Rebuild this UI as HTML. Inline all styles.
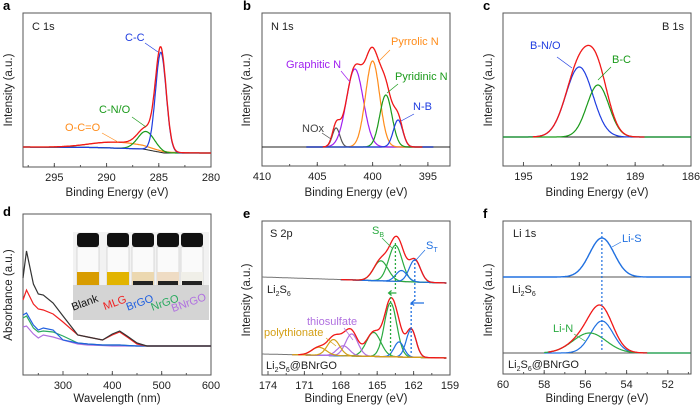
<!DOCTYPE html>
<html><head><meta charset="utf-8">
<style>
body{margin:0;background:#fff;}
svg{display:block;font-family:"Liberation Sans",Arial,sans-serif;}
.tick{font-size:11px;fill:#222;text-anchor:middle;}
.ttl{font-size:11.5px;fill:#222;text-anchor:middle;}
.pl{font-size:13px;font-weight:bold;fill:#000;}
.ann{font-size:11px;}
</style></head>
<body>
<svg id="fig" width="700" height="406" viewBox="0 0 700 406"></svg>
<script>
// ---------- Data ----------
// Panel a: C 1s
const aCenters=[284.8,286.2,289.0];
const aHeights=[100,18,6];
const aWidths=[1.2,1.9,6.0];
const aBaseE=[298,291,286.5,284.5,280];
const aBaseV=[20,19.5,18,14,14];
// Panel b: N 1s
const bCenters=[403.3,401.6,400.0,398.8,397.7];
const bHeights=[19,78,86,52,27];
const bWidths=[0.8,1.8,1.5,1.3,1.0];
const bBaseE=[410,393];
const bBaseV=[19,19];
// Panel c: B 1s
const cCenters=[192.0,191.0];
const cHeights=[70,52];
const cWidths=[1.7,1.4];
const cBaseE=[196,186];
const cBaseV=[29,29];
// Panel d: UV-vis
const dWave=[219,226,240,250,260,280,300,330,350,380,400,415,430,450,470,500,600];
const dBlank=[0.68,0.95,0.62,0.52,0.51,0.43,0.30,0.11,0.09,0.06,0.12,0.15,0.10,0.03,0.0,0.0,0.0];
const dMLG=[0.46,0.56,0.42,0.37,0.36,0.32,0.24,0.11,0.09,0.06,0.11,0.14,0.09,0.02,0.0,0.0,0.0];
const dBrGO=[0.31,0.33,0.21,0.16,0.18,0.16,0.06,0.03,0.02,0.01,0.01,0.01,0.005,0.0,0.0,0.0,0.0];
const dNrGO=[0.28,0.30,0.18,0.14,0.15,0.14,0.10,0.03,0.02,0.01,0.01,0.01,0.005,0.0,0.0,0.0,0.0];
const dBNrGO=[0.19,0.20,0.12,0.08,0.11,0.09,0.06,0.02,0.01,0.005,0.0,0.0,0.0,0.0,0.0,0.0,0.0];
// Panel e: S 2p
const eTopCenters=[163.5,164.7,161.9,163.0];
const eTopHeights=[36,20,22,11];
const eTopWidths=[1.3,1.4,1.1,1.1];
const eBotCenters=[163.9,165.3,162.2,163.2,167.1,167.8,168.6,169.8];
const eBotHeights=[54,24,28,15,22,10,16,8];
const eBotWidths=[1.2,1.4,0.95,0.95,1.2,1.2,1.2,1.4];
const eTopBase=[98,92];
const eBotBase=[21,17];
// Panel f: Li 1s
const fTopCenters=[55.2];
const fTopHeights=[39];
const fTopWidths=[1.4];
const fBotCenters=[55.2,55.8];
const fBotHeights=[32,20];
const fBotWidths=[1.3,1.9];
const fTopBase=[97,97];
const fBotBase=[21,21];
// Tick labels
const aTicks=[295,290,285,280];
const bTicks=[410,405,400,395];
const cTicks=[195,192,189,186];
const dTicks=[300,400,500,600];
const eTicks=[174,171,168,165,162,159];
const fTicks=[60,58,56,54,52];

// ---------- Helpers ----------
const NS="http://www.w3.org/2000/svg";
const svg=document.getElementById('fig');
function mk(tag,attrs,parent){const e=document.createElementNS(NS,tag);for(const k in attrs)e.setAttribute(k,attrs[k]);(parent||svg).appendChild(e);return e;}
function txt(x,y,s,cls,fill,name,extra){const t=mk('text',Object.assign({x:x,y:y,class:cls,fill:fill||'#222'},extra||{}));t.textContent=s;


return t;}
function gauss(E,c,h,w){return h*Math.exp(-4*Math.LN2*(E-c)*(E-c)/(w*w));}
function interp(xs,ys,x){if(xs[0]>xs[xs.length-1]){xs=xs.slice().reverse();ys=ys.slice().reverse();}
if(x<=xs[0])return ys[0];for(let i=1;i<xs.length;i++){if(x<=xs[i]){const t=(x-xs[i-1])/(xs[i]-xs[i-1]);return ys[i-1]+t*(ys[i]-ys[i-1]);}}return ys[ys.length-1];}
function scaleX(d0,d1,p0,p1){return v=>p0+(v-d0)/(d1-d0)*(p1-p0);}
function pathFrom(pts){return pts.map((p,i)=>(i?'L':'M')+p[0].toFixed(1)+','+p[1].toFixed(1)).join('');}
function frame(box,name){const r=mk('rect',{x:box.x0,y:box.y0,width:box.x1-box.x0,height:box.y1-box.y0,fill:'none',stroke:'#555','stroke-width':1});

}
function ticks(box,X,vals,name,minorStep){
 vals.forEach(v=>{const x=X(v);mk('line',{x1:x,x2:x,y1:box.y1,y2:box.y1-4,stroke:'#555'});txt(x,box.y1+14,String(v),'tick','#222',name+'-'+v);});
 if(minorStep){const lo=Math.min(...vals)-minorStep*2,hi=Math.max(...vals)+minorStep*2;for(let v=lo;v<=hi;v+=minorStep){const x=X(v);if(x>box.x0+1&&x<box.x1-1)mk('line',{x1:x,x2:x,y1:box.y1,y2:box.y1-2,stroke:'#555'});}}
}
function yTitle(x,cy,s,name){txt(x,cy,s,'ttl','#222',name,{transform:'rotate(-90 '+x+' '+cy+')'});}
function curve(box,X,E0,E1,fn,color,name,width){
 const pts=[];const n=300;for(let i=0;i<=n;i++){const E=E0+(E1-E0)*i/n;pts.push([X(E),box.y1-fn(E)]);}
 const p=mk('path',{d:pathFrom(pts),fill:'none',stroke:color,'stroke-width':width||1.2});
 
 
 return p;}
function leader(x1,y1,x2,y2,c){mk('line',{x1:x1,y1:y1,x2:x2,y2:y2,stroke:c,'stroke-width':0.7});}
function sub(parent,s){const a=mk('tspan',{'font-size':'7px',dy:'3'},parent);a.textContent=s;}
function sup0(parent,s){const a=mk('tspan',{dy:'-3'},parent);a.textContent=s;}

// ---------- Panel a ----------
(function(){
 const box={x0:23,x1:211,y0:13,y1:167};
 const X=scaleX(298,280,box.x0,box.x1);
 frame(box,'panel-a-frame');
 const base=E=>interp(aBaseE,aBaseV,E);
 curve(box,X,298,280,base,'#222','a-background',1);
 const cols=['#1f3de0','#1a9a1a','#ff8c1a'];const names=['a-cc-peak','a-cno-peak','a-oco-peak'];
 [2,1,0].forEach(i=>curve(box,X,298,280,E=>base(E)+gauss(E,aCenters[i],aHeights[i],aWidths[i]),cols[i],names[i]));
 curve(box,X,298,280,E=>{let s=base(E);for(let i=0;i<aCenters.length;i++)s+=gauss(E,aCenters[i],aHeights[i],aWidths[i]);return s;},'#f01818','a-envelope',1.3);
 ticks(box,X,aTicks,'a-tick',2.5);
 txt(117,196,'Binding Energy (eV)','ttl','#222','a-x-title');
 yTitle(12,90,'Intensity (a.u.)','a-y-title');
 txt(3,10,'a','pl','#000','panel-a-letter');
 txt(32,30,'C 1s','ann','#222','a-title');
 txt(125,41,'C-C','ann','#1f3de0','a-label-cc');leader(145,43,158,52,'#1f3de0');
 txt(99,113,'C-N/O','ann','#1a9a1a','a-label-cno');leader(132,117,146,127,'#1a9a1a');
 txt(65,131,'O-C=O','ann','#ff8c1a','a-label-oco');leader(102,133,118,142,'#ff8c1a');
})();

// ---------- Panel b ----------
(function(){
 const box={x0:262,x1:450,y0:13,y1:166};
 const X=scaleX(410,393,box.x0,box.x1);
 frame(box,'panel-b-frame');
 const base=E=>interp(bBaseE,bBaseV,E);
 curve(box,X,410,393,base,'#222','b-background',1);
 const cols=['#555','#a020f0','#ff8c1a','#1a9a1a','#1f3de0'];
 const names=['b-nox-peak','b-graphitic-peak','b-pyrrolic-peak','b-pyridinic-peak','b-nb-peak'];
 cols.forEach((c,i)=>curve(box,X,406,394.5,E=>base(E)+gauss(E,bCenters[i],bHeights[i],bWidths[i]),c,names[i]));
 curve(box,X,404.5,395.5,E=>{let s=base(E);for(let i=0;i<bCenters.length;i++)s+=gauss(E,bCenters[i],bHeights[i],bWidths[i]);return s;},'#f01818','b-envelope',1.3);
 ticks(box,X,bTicks,'b-tick',2.5);
 txt(356,196,'Binding Energy (eV)','ttl','#222','b-x-title');
 yTitle(250,90,'Intensity (a.u.)','b-y-title');
 txt(243,10,'b','pl','#000','panel-b-letter');
 txt(271,30,'N 1s','ann','#222','b-title');
 txt(286,68,'Graphitic N','ann','#a020f0','b-label-graphitic');leader(341,71,350,82,'#a020f0');
 txt(391,45,'Pyrrolic N','ann','#ff8c1a','b-label-pyrrolic');leader(390,50,378,62,'#ff8c1a');
 txt(395,80,'Pyridinic N','ann','#1a9a1a','b-label-pyridinic');leader(398,84,387,93,'#1a9a1a');
 txt(413,110,'N-B','ann','#1f3de0','b-label-nb');leader(414,114,401,121,'#1f3de0');
 txt(302,132,'NOx','ann','#444','b-label-nox');leader(322,133,331,139,'#444');
})();

// ---------- Panel c ----------
(function(){
 const box={x0:503,x1:691,y0:13,y1:166};
 const X=scaleX(196.1,186,box.x0,box.x1);
 frame(box,'panel-c-frame');
 const base=E=>interp(cBaseE,cBaseV,E);
 curve(box,X,196.1,186,base,'#222','c-background',1);
 curve(box,X,196.1,186,E=>base(E)+gauss(E,cCenters[0],cHeights[0],cWidths[0]),'#1f3de0','c-bno-peak');
 curve(box,X,196.1,186,E=>base(E)+gauss(E,cCenters[1],cHeights[1],cWidths[1]),'#1a9a1a','c-bc-peak');
 curve(box,X,194.5,188.5,E=>base(E)+gauss(E,cCenters[0],cHeights[0],cWidths[0])+gauss(E,cCenters[1],cHeights[1],cWidths[1]),'#f01818','c-envelope',1.3);
 ticks(box,X,cTicks,'c-tick',1.5);
 txt(597,196,'Binding Energy (eV)','ttl','#222','c-x-title');
 yTitle(492,90,'Intensity (a.u.)','c-y-title');
 txt(483,10,'c','pl','#000','panel-c-letter');
 txt(662,30,'B 1s','ann','#222','c-title');
 txt(530,49,'B-N/O','ann','#1f3de0','c-label-bno');leader(557,57,572,68,'#1f3de0');
 txt(612,63,'B-C','ann','#1a9a1a','c-label-bc');leader(611,67,598,80,'#1a9a1a');
})();

// ---------- Panel d ----------
(function(){
 const box={x0:23,x1:211,y0:214,y1:375};
 const X=scaleX(300,600,63,211);
 const Y=a=>346-a*100;
 frame(box,'panel-d-frame');
 const series=[[dBNrGO,'#b070e0','d-line-bnrgo'],[dNrGO,'#2aaa60','d-line-nrgo'],[dBrGO,'#2060e0','d-line-brgo'],[dMLG,'#f02020','d-line-mlg'],[dBlank,'#333','d-line-blank']];
 series.forEach(s=>{const pts=dWave.map((w,i)=>[X(w),Y(s[0][i])]);
  const p=mk('path',{d:pathFrom(pts),fill:'none',stroke:s[1],'stroke-width':1.2});
  
  });
 ticks(box,X,dTicks,'d-tick',50);
 txt(117,402,'Wavelength (nm)','ttl','#222','d-x-title');
 yTitle(12,295,'Absorbance (a.u.)','d-y-title');
 txt(3,216,'d','pl','#000','panel-d-letter');
 const g=mk('g',{});
 
 
 mk('rect',{x:73,y:232,width:136,height:88,fill:'#f2f2f2'},g);
 mk('rect',{x:73,y:285,width:136,height:35,fill:'#d4d4d4'},g);
 const vx=[88,118,143,168,192];
 const liq=['#d89c00','#e2b400','#ecd8b0','#efdcc4','#f0efe8'];
 const names=['Blank','MLG','BrGO','NrGO','BNrGO'];
 const lc=['#111','#f02020','#2060e0','#2aaa60','#b070e0'];
 vx.forEach((x,i)=>{
  mk('rect',{x:x-11,y:247,width:22,height:38,fill:'#fafafa',stroke:'#bbb','stroke-width':0.5},g);
  mk('rect',{x:x-11,y:272,width:22,height:13,fill:liq[i]},g);
  if(i>=2)mk('rect',{x:x-10,y:281,width:20,height:4,fill:'#222'},g);
  mk('rect',{x:x-11,y:233,width:22,height:14,rx:3,fill:'#111'},g);
  txt(x-2,306,names[i],'ann',lc[i],'vial-label-'+names[i].toLowerCase(),{'text-anchor':'middle','font-size':'10',transform:'rotate(-20 '+(x-2)+' 306)'});
 });
})();

// ---------- Panel e ----------
(function(){
 const box={x0:262,x1:450,y0:221,y1:375};
 const E0=174.5,E1=159.3;
 const X=scaleX(174,159,268,450);
 frame(box,'panel-e-frame');
 const tb=E=>interp([E0,E1],eTopBase,E), bb=E=>interp([E0,E1],eBotBase,E);
 curve(box,X,E0,E1,tb,'#777','e-top-background',1);
 curve(box,X,E0,E1,bb,'#777','e-bottom-background',1);
 curve(box,X,171,E1,bb,'#d4a017','e-bottom-baseline-fit',1.2);
 const tc=['#2aaa40','#2aaa40','#2070e0','#2070e0'];
 eTopCenters.forEach((c,i)=>curve(box,X,168,E1,E=>tb(E)+gauss(E,c,eTopHeights[i],eTopWidths[i]),tc[i],'e-top-peak-'+i));
 curve(box,X,168,E1,E=>{let s=tb(E);eTopCenters.forEach((c,i)=>s+=gauss(E,c,eTopHeights[i],eTopWidths[i]));return s;},'#f01818','e-top-envelope',1.3);
 const bc=['#2aaa40','#2aaa40','#2070e0','#2070e0','#b070e0','#b070e0','#d4a017','#d4a017'];
 eBotCenters.forEach((c,i)=>curve(box,X,172,E1,E=>bb(E)+gauss(E,c,eBotHeights[i],eBotWidths[i]),bc[i],'e-bottom-peak-'+i));
 curve(box,X,171.5,E1,E=>{let s=bb(E);eBotCenters.forEach((c,i)=>s+=gauss(E,c,eBotHeights[i],eBotWidths[i]));return s;},'#f01818','e-bottom-envelope',1.3);
 const gx1=X(eTopCenters[0]),gx2=X(eBotCenters[0]),bx1=X(eTopCenters[2]),bx2=X(eBotCenters[2]);
 mk('line',{x1:gx1,x2:gx1,y1:243,y2:290,stroke:'#2aaa40','stroke-dasharray':'2,2','stroke-width':1.3});
 mk('line',{x1:gx2,x2:gx2,y1:293,y2:355,stroke:'#2aaa40','stroke-dasharray':'2,2','stroke-width':1.3});
 mk('line',{x1:bx1,x2:bx1,y1:259,y2:303,stroke:'#2070e0','stroke-dasharray':'2,2','stroke-width':1.3});
 mk('line',{x1:bx2,x2:bx2,y1:303,y2:355,stroke:'#2070e0','stroke-dasharray':'2,2','stroke-width':1.3});
 mk('path',{d:'M'+(gx1+1)+',293 L'+(gx2-2)+',293 M'+(gx2+1)+',290.5 L'+(gx2-2)+',293 L'+(gx2+1)+',295.5',stroke:'#2aaa40',fill:'none','stroke-width':1.2});
 mk('path',{d:'M424,303 L'+bx2+',303 M'+(bx2+3)+',300.5 L'+bx2+',303 L'+(bx2+3)+',305.5',stroke:'#2070e0',fill:'none','stroke-width':1.2});
 ticks(box,X,eTicks,'e-tick',1.5);
 txt(356,402,'Binding Energy (eV)','ttl','#222','e-x-title');
 yTitle(250,300,'Intensity (a.u.)','e-y-title');
 txt(243,218,'e','pl','#000','panel-e-letter');
 txt(270,237,'S 2p','ann','#222','e-title');
 const l1=txt(267,293,'Li','ann','#222','e-label-li2s6');sub(l1,'2');sup0(l1,'S');sub(l1,'6');
 const l2=txt(266,369,'Li','ann','#222','e-label-li2s6-bnrgo');sub(l2,'2');sup0(l2,'S');sub(l2,'6');sup0(l2,'@BNrGO');
 const sb=txt(372,234,'S','ann','#2aaa40','e-label-sb');sub(sb,'B');leader(382,238,392,248,'#2aaa40');
 const st=txt(426,249,'S','ann','#2070e0','e-label-st');sub(st,'T');leader(425,250,416,260,'#2070e0');
 txt(307,325,'thiosulfate','ann','#b070e0','e-label-thiosulfate');leader(344,328,353,340,'#b070e0');
 txt(264,336,'polythionate','ann','#d4a017','e-label-polythionate');leader(326,338,336,346,'#d4a017');
})();

// ---------- Panel f ----------
(function(){
 const box={x0:503,x1:691,y0:221,y1:374};
 const X=scaleX(60,56,503,585.4);
 const E0=60,E1=50.9;
 frame(box,'panel-f-frame');
 const tb=E=>interp([E0,E1],fTopBase,E), bb=E=>interp([E0,E1],fBotBase,E);
 curve(box,X,E0,E1,tb,'#555','f-top-background',1);
 curve(box,X,E0,E1,bb,'#555','f-bottom-background',1);
 curve(box,X,E0,E1,E=>tb(E)+gauss(E,fTopCenters[0],fTopHeights[0],fTopWidths[0]),'#2070e0','f-top-lis-peak',1.4);
 curve(box,X,58,E1,E=>bb(E)+gauss(E,fBotCenters[0],fBotHeights[0],fBotWidths[0]),'#2070e0','f-bottom-lis-peak');
 curve(box,X,58,E1,E=>bb(E)+gauss(E,fBotCenters[1],fBotHeights[1],fBotWidths[1]),'#2aaa40','f-bottom-lin-peak');
 curve(box,X,57.8,53,E=>bb(E)+gauss(E,fBotCenters[0],fBotHeights[0],fBotWidths[0])+gauss(E,fBotCenters[1],fBotHeights[1],fBotWidths[1]),'#f01818','f-bottom-envelope',1.3);
 const dx=X(fTopCenters[0]);
 mk('line',{x1:dx,x2:dx,y1:232,y2:352,stroke:'#2070e0','stroke-dasharray':'2,2','stroke-width':1.2});
 ticks(box,X,fTicks,'f-tick',1);
 txt(597,402,'Binding Energy (eV)','ttl','#222','f-x-title');
 yTitle(492,300,'Intensity (a.u.)','f-y-title');
 txt(483,218,'f','pl','#000','panel-f-letter');
 txt(513,237,'Li 1s','ann','#222','f-title');
 txt(622,242,'Li-S','ann','#2070e0','f-label-lis');leader(621,242,612,247,'#2070e0');
 const l1=txt(512,293,'Li','ann','#222','f-label-li2s6');sub(l1,'2');sup0(l1,'S');sub(l1,'6');
 txt(553,332,'Li-N','ann','#2aaa40','f-label-lin');leader(574,334,585,341,'#2aaa40');
 const l2=txt(508,368,'Li','ann','#222','f-label-li2s6-bnrgo');sub(l2,'2');sup0(l2,'S');sub(l2,'6');sup0(l2,'@BNrGO');
})();
</script>
</body></html>
